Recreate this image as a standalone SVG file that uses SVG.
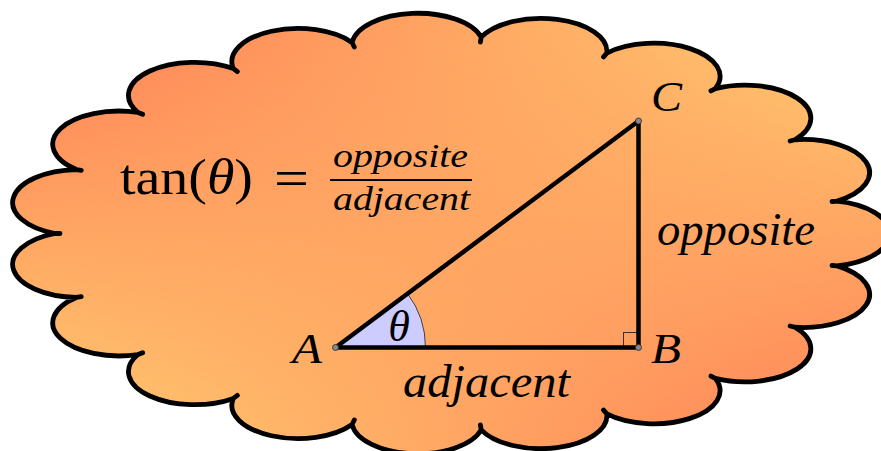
<svg xmlns="http://www.w3.org/2000/svg" width="881" height="451" viewBox="0 0 881 451">
<style>
text{font-family:"Liberation Serif","DejaVu Serif","Times New Roman",serif;fill:#000}
.i{font-style:italic}
.pt{fill:#888;stroke:#333;stroke-width:0.9}
</style>
<defs>
<linearGradient id="gh1" x1="0" y1="0" x2="1" y2="0"><stop offset="0" stop-color="#FF7A55"/><stop offset="1" stop-color="#FFD272"/></linearGradient>
<linearGradient id="gh2" x1="0" y1="0" x2="1" y2="0"><stop offset="0" stop-color="#FFD272"/><stop offset="1" stop-color="#FF7A55"/></linearGradient>
<linearGradient id="gv" gradientUnits="userSpaceOnUse" x1="0" y1="12" x2="0" y2="455"><stop offset="0" stop-color="#000"/><stop offset="1" stop-color="#fff"/></linearGradient>
<mask id="mv" maskUnits="userSpaceOnUse" x="0" y="0" width="881" height="451"><rect width="881" height="451" fill="url(#gv)"/></mask>
<path id="cl" d="M55,233.5 L60,233.5 L55,233.5 A66.1,33.1 0 0 1 76.33,169.53 L81.26,170.38 L76.33,169.53 A66.1,33.1 0 0 1 138.01,112.5 L142.67,114.31 L138.01,112.5 A66.1,33.1 0 0 1 233.37,68.58 L237.34,71.62 L233.37,68.58 A66.1,33.1 0 0 1 352.05,42.53 L354.31,46.99 L352.05,42.53 A66.1,33.1 0 0 1 481.21,37.17 L480.39,42.1 L481.21,37.17 A66.1,33.1 0 0 1 606.85,53.09 L603.55,56.85 L606.85,53.09 A66.1,33.1 0 0 1 715.35,88.56 L710.96,90.95 L715.35,88.56 A66.1,33.1 0 0 1 794.95,139.74 L790.12,141.05 L794.95,139.74 A66.1,33.1 0 0 1 837.03,201.08 L832.05,201.5 L837.03,201.08 A66.1,33.1 0 0 1 837.03,265.92 L832.05,265.5 L837.03,265.92 A66.1,33.1 0 0 1 794.95,327.26 L790.12,325.95 L794.95,327.26 A66.1,33.1 0 0 1 715.35,378.44 L710.96,376.05 L715.35,378.44 A66.1,33.1 0 0 1 606.85,413.91 L603.55,410.15 L606.85,413.91 A66.1,33.1 0 0 1 481.21,429.83 L480.39,424.9 L481.21,429.83 A66.1,33.1 0 0 1 352.05,424.47 L354.31,420.01 L352.05,424.47 A66.1,33.1 0 0 1 233.37,398.42 L237.34,395.38 L233.37,398.42 A66.1,33.1 0 0 1 138.01,354.5 L142.67,352.69 L138.01,354.5 A66.1,33.1 0 0 1 76.33,297.47 L81.26,296.62 L76.33,297.47 A66.1,33.1 0 0 1 55,233.5 Z"/>
</defs>
<g id="cloud">
<use href="#cl" fill="url(#gh1)"/>
<use href="#cl" fill="url(#gh2)" mask="url(#mv)"/>
<use href="#cl" fill="none" stroke="#000" stroke-width="4.8" stroke-linejoin="round" stroke-linecap="round"/>
</g>
<g id="formula">
<text x="120" y="194" font-size="50" textLength="133" lengthAdjust="spacingAndGlyphs">tan(<tspan class="i">θ</tspan>)</text>
<text x="274" y="196" font-size="52" textLength="35" lengthAdjust="spacingAndGlyphs">=</text>
<line x1="330" y1="180" x2="472" y2="180" stroke="#000" stroke-width="2"/>
<text x="333" y="167" font-size="33" class="i" textLength="135" lengthAdjust="spacingAndGlyphs">opposite</text>
<text x="333" y="210" font-size="33" class="i" textLength="137" lengthAdjust="spacingAndGlyphs">adjacent</text>
</g>
<g id="angle">
<path d="M335.5,347.5 L425.5,347.5 A90,90 0 0 0 407.5,293.5 Z" fill="#CCCCFF" stroke="#333" stroke-width="0.9"/>
<text class="i" x="399" y="341" font-size="44" text-anchor="middle">θ</text>
</g>
<g id="connectors">
<rect x="623.5" y="332.5" width="15" height="15" fill="none" stroke="#333" stroke-width="1"/>
<path d="M335.5,347.5 L638.5,347.5 L638.5,121 Z" fill="none" stroke="#000" stroke-width="4.5" stroke-linejoin="round"/>
</g>
<g id="side-labels">
<text class="i" x="657" y="245" font-size="46" textLength="158" lengthAdjust="spacingAndGlyphs">opposite</text>
<text class="i" x="403" y="396.5" font-size="46" textLength="167" lengthAdjust="spacingAndGlyphs">adjacent</text>
</g>
<g id="A"><circle class="pt" cx="335.5" cy="347.5" r="3"/><text class="i" x="292" y="363" font-size="42" textLength="30" lengthAdjust="spacingAndGlyphs">A</text></g>
<g id="B"><circle class="pt" cx="638.5" cy="347.5" r="3"/><text class="i" x="651" y="362.5" font-size="42" textLength="30" lengthAdjust="spacingAndGlyphs">B</text></g>
<g id="C"><circle class="pt" cx="638.5" cy="121" r="3"/><text class="i" x="651" y="110.5" font-size="42" textLength="31" lengthAdjust="spacingAndGlyphs">C</text></g>
</svg>
